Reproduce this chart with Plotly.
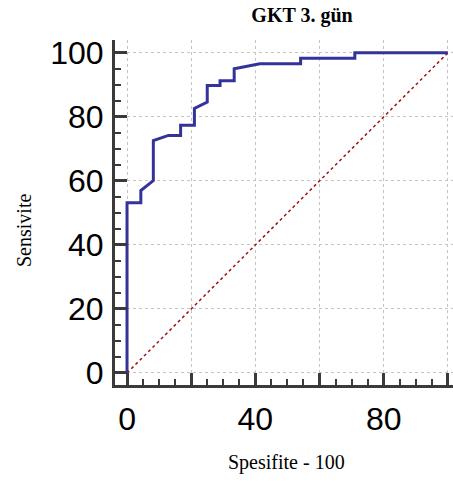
import plotly.graph_objects as go

# ROC curve points (100 - Specificity, Sensitivity)
fpr = [0, 0, 4.3, 4.3, 8.2, 8.2, 12.9, 16.7, 16.7, 21, 21, 25, 25, 29, 29,
       33.4, 33.4, 41.4, 54.1, 54.1, 71, 71, 100]
tpr = [0, 53.2, 53.2, 57, 60.1, 72.6, 74.2, 74.2, 77.4, 77.4, 82.6, 84.6, 89.8,
       89.8, 91.3, 91.3, 95, 96.6, 96.6, 98.3, 98.3, 100, 100]
diag = [0, 100]

x_tickvals = [0, 20, 40, 60, 80, 100]
x_ticktext = ["0", "", "40", "", "80", ""]
y_tickvals = [0, 20, 40, 60, 80, 100]
y_ticktext = ["0", "20", "40", "60", "80", "100"]

title_text = "<b>GKT 3. gün</b>"
x_title = "Spesifite - 100"
y_title = "Sensivite"

SERIF = "Liberation Serif, Times New Roman"

fig = go.Figure()
fig.add_trace(go.Scatter(x=diag, y=diag, mode="lines",
                         line=dict(color="#A01010", width=1.5, dash="dot"),
                         hoverinfo="skip", showlegend=False))
fig.add_trace(go.Scatter(x=fpr, y=tpr, mode="lines",
                         line=dict(color="#333399", width=3),
                         showlegend=False))

axis_common = dict(
    showline=True, linecolor="#3a3a3a", linewidth=3,
    ticks="inside", ticklen=12, tickwidth=3, tickcolor="#3a3a3a",
    showgrid=True, gridcolor="#c4c4c4", gridwidth=1, griddash="dot",
    zeroline=False,
    tickfont=dict(family="Liberation Sans, Arial", size=32, color="black"),
    minor=dict(dtick=5, ticks="inside", ticklen=6, tickwidth=1.5,
               tickcolor="#3a3a3a", showgrid=False),
)

fig.update_layout(
    width=453, height=481,
    margin=dict(l=115, r=0, t=40, b=96),
    paper_bgcolor="white", plot_bgcolor="white",
    title=dict(text=title_text, x=302/453, xanchor="center",
               y=1 - 15/481, yanchor="middle", yref="container",
               font=dict(family=SERIF, size=20, color="black")),
    xaxis=dict(range=[-3.75, 101.6], tickvals=x_tickvals, ticktext=x_ticktext,
               ticklabelstandoff=4, **axis_common),
    yaxis=dict(range=[-3.75, 104], tickvals=y_tickvals, ticktext=y_ticktext,
               ticklabelstandoff=2, **axis_common),
    annotations=[
        dict(text=x_title, xref="paper", yref="paper",
             x=(286.5 - 115) / 338, y=(385 - 462) / 345,
             xanchor="center", yanchor="middle", showarrow=False,
             font=dict(family=SERIF, size=20, color="black")),
        dict(text=y_title, xref="paper", yref="paper",
             x=(24 - 115) / 338, y=(385 - 231) / 345, textangle=-90,
             xanchor="center", yanchor="middle", showarrow=False,
             font=dict(family=SERIF, size=20, color="black")),
    ],
)

fig.write_html("out.html")
